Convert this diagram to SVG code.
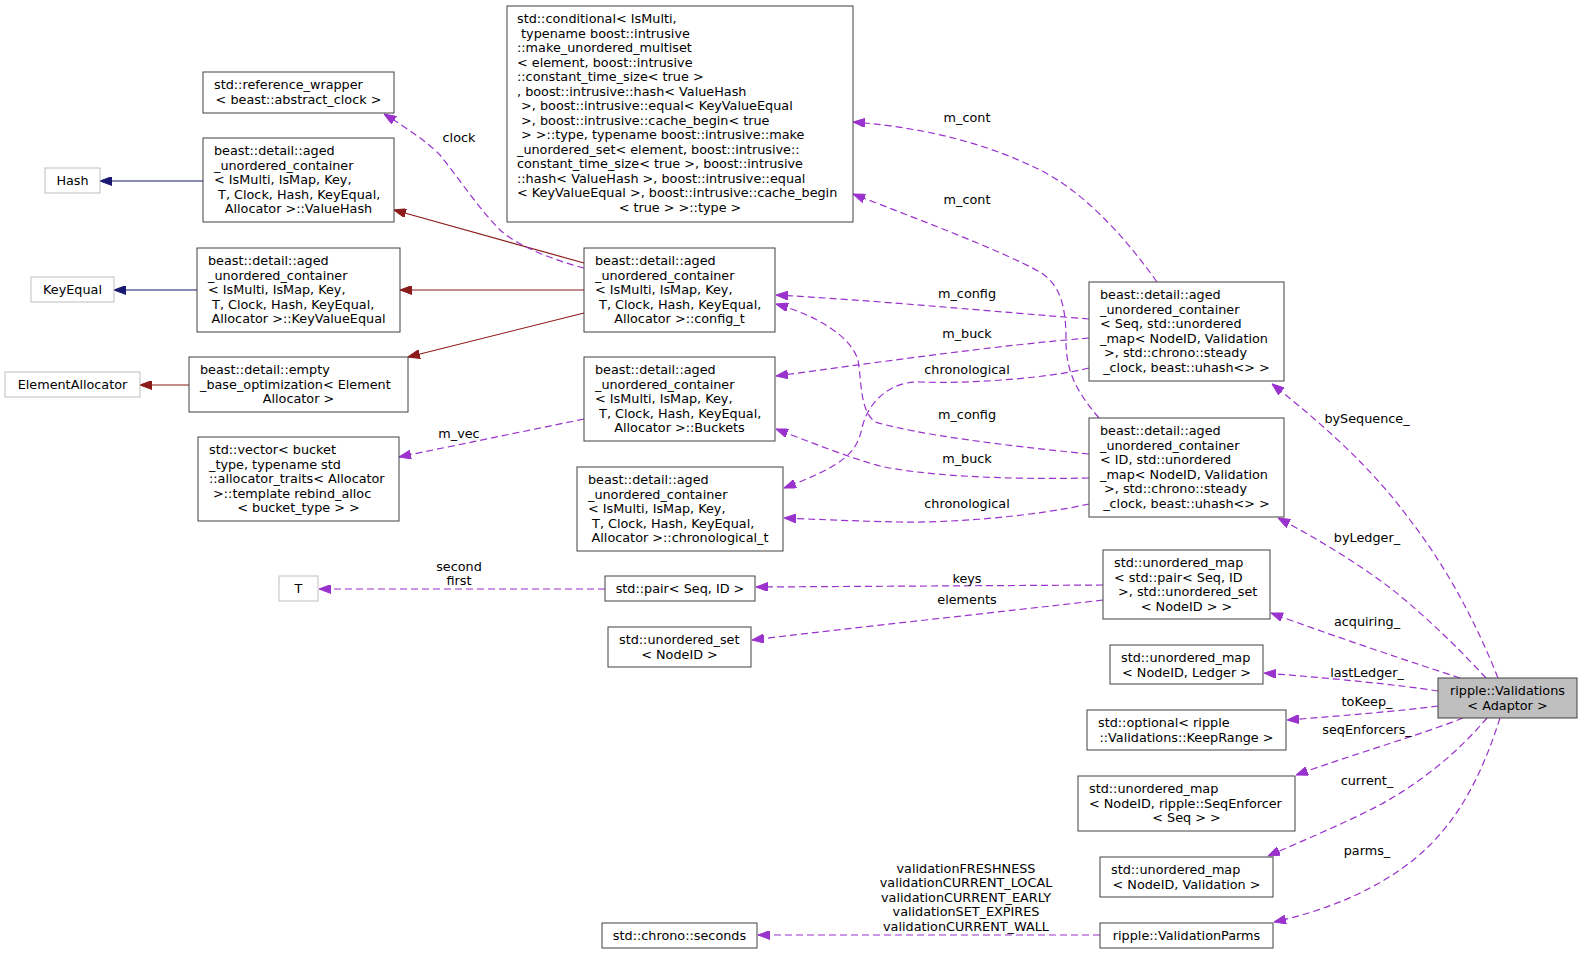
<svg xmlns="http://www.w3.org/2000/svg" width="1583" height="954" viewBox="0 0 1583 954">
<style>
text{font-family:"DejaVu Sans","Liberation Sans",sans-serif;font-size:12.8px;fill:#000;white-space:pre}
.m{text-anchor:middle}
.node rect{fill:#fff;stroke:#404040;stroke-width:1}
.node.u rect{stroke:#bfbfbf}
.node.root rect{fill:#bfbfbf}
.e{fill:none;stroke-width:1.2}
.d{stroke:#9a32cd;stroke-dasharray:7,4;marker-end:url(#ap)}
.r{stroke:#8b1a1a;marker-end:url(#ar)}
.b{stroke:#191970;marker-end:url(#ab)}
</style>
<defs>
<marker id="ap" markerUnits="userSpaceOnUse" viewBox="0 0 12 9" markerWidth="12" markerHeight="9" refX="12" refY="4.5" orient="auto"><path d="M0,0 L12,4.5 L0,9 z" fill="#9a32cd" stroke="#9a32cd"/></marker>
<marker id="ar" markerUnits="userSpaceOnUse" viewBox="0 0 12 9" markerWidth="12" markerHeight="9" refX="12" refY="4.5" orient="auto"><path d="M0,0 L12,4.5 L0,9 z" fill="#8b1a1a" stroke="#8b1a1a"/></marker>
<marker id="ab" markerUnits="userSpaceOnUse" viewBox="0 0 12 9" markerWidth="12" markerHeight="9" refX="12" refY="4.5" orient="auto"><path d="M0,0 L12,4.5 L0,9 z" fill="#191970" stroke="#191970"/></marker>
</defs>
<rect width="1583" height="954" fill="#fff"/>

<g id="edges">
<path class="e r" d="M584,263 L394,210"/>
<path class="e r" d="M584,290 L400,290"/>
<path class="e r" d="M584,313 L408,357"/>
<path class="e b" d="M203,181 L100,181"/>
<path class="e b" d="M197,290 L114,290"/>
<path class="e r" d="M189,385 L140,385"/>
<path class="e d" d="M584,268 C560,262 520,248 500,230 C480,210 460,180 440,155 C425,140 405,127 384,114"/>
<text class="m" x="459" y="141.5">clock</text>
<path class="e d" d="M584,419 L399,457"/>
<text class="m" x="459" y="437.5">m_vec</text>
<path class="e d" d="M1157,282 C1120,230 1080,190 1040,170 C990,145 930,128 853,122"/>
<text class="m" x="967" y="121.5">m_cont</text>
<path class="e d" d="M1099,418 C1075,390 1066,370 1066,340 C1066,305 1060,285 1040,272 C1000,250 920,220 853,194"/>
<text class="m" x="967" y="203.5">m_cont</text>
<path class="e d" d="M1089,319 C1000,312 870,300 776,295"/>
<text class="m" x="967" y="297.5">m_config</text>
<path class="e d" d="M1089,338 C1000,345 880,362 776,376"/>
<text class="m" x="967" y="337.5">m_buck</text>
<path class="e d" d="M1089,368 C1050,378 970,384 920,382 C890,381 868,402 862,428 C857,452 845,465 784,488"/>
<text class="m" x="967" y="373.5">chronological</text>
<path class="e d" d="M1089,454 C1000,445 920,435 875,422 C860,410 862,385 858,360 C850,335 815,315 776,304"/>
<text class="m" x="967" y="418.5">m_config</text>
<path class="e d" d="M1089,478 C1000,480 920,475 880,466 C850,458 810,442 776,429"/>
<text class="m" x="967" y="462.5">m_buck</text>
<path class="e d" d="M1089,504 C1040,515 960,523 900,522 C850,521 810,519 784,518"/>
<text class="m" x="967" y="507.5">chronological</text>
<path class="e d" d="M1103,585 L756,587"/>
<text class="m" x="967" y="582.5">keys</text>
<path class="e d" d="M1103,600 C1000,612 850,628 752,640"/>
<text class="m" x="967" y="603.5">elements</text>
<path class="e d" d="M605,589 L319,589"/>
<text class="m" x="459" y="570.5">second</text>
<text class="m" x="459" y="584.5">first</text>
<path class="e d" d="M1100,935 L758,935"/>
<text class="m" x="966" y="872.5">validationFRESHNESS</text>
<text class="m" x="966" y="887">validationCURRENT_LOCAL</text>
<text class="m" x="966" y="901.5">validationCURRENT_EARLY</text>
<text class="m" x="966" y="916">validationSET_EXPIRES</text>
<text class="m" x="966" y="930.5">validationCURRENT_WALL</text>
<path class="e d" d="M1498,678 C1475,620 1445,565 1410,520 C1375,472 1330,430 1272,384"/>
<text class="m" x="1367" y="422.5">bySequence_</text>
<path class="e d" d="M1486,678 C1460,650 1430,620 1393,590 C1360,565 1320,540 1278,518"/>
<text class="m" x="1367" y="541.5">byLedger_</text>
<path class="e d" d="M1460,678 C1420,665 1330,635 1271,613"/>
<text class="m" x="1367" y="625.5">acquiring_</text>
<path class="e d" d="M1438,691 C1400,685 1330,678 1264,673"/>
<text class="m" x="1367" y="676.5">lastLedger_</text>
<path class="e d" d="M1438,706 C1400,711 1340,716 1287,720"/>
<text class="m" x="1367" y="705.5">toKeep_</text>
<path class="e d" d="M1463,718 C1420,735 1360,752 1296,775"/>
<text class="m" x="1367" y="733.5">seqEnforcers_</text>
<path class="e d" d="M1487,718 C1460,750 1420,785 1370,810 C1340,825 1300,842 1268,856"/>
<text class="m" x="1367" y="784.5">current_</text>
<path class="e d" d="M1500,718 C1485,765 1465,810 1430,845 C1390,885 1330,910 1274,922"/>
<text class="m" x="1367" y="854.5">parms_</text>
</g>

<g id="n_validations" class="node root">
<rect x="1438" y="678" width="139" height="40"/>
<text class="m" x="1507.5" y="695">ripple::Validations</text>
<text class="m" x="1507.5" y="709.5">&lt; Adaptor &gt;</text>
</g>
<g id="n_bysequence" class="node">
<rect x="1089" y="282" width="195" height="99"/>
<text x="1100" y="299">beast::detail::aged</text>
<text x="1100" y="313.5">_unordered_container</text>
<text x="1100" y="328">&lt; Seq, std::unordered</text>
<text x="1100" y="342.5">_map&lt; NodeID, Validation</text>
<text x="1100" y="357"> &gt;, std::chrono::steady</text>
<text class="m" x="1186.5" y="371.5">_clock, beast::uhash&lt;&gt; &gt;</text>
</g>
<g id="n_byledger" class="node">
<rect x="1089" y="418" width="195" height="99"/>
<text x="1100" y="435">beast::detail::aged</text>
<text x="1100" y="449.5">_unordered_container</text>
<text x="1100" y="464">&lt; ID, std::unordered</text>
<text x="1100" y="478.5">_map&lt; NodeID, Validation</text>
<text x="1100" y="493"> &gt;, std::chrono::steady</text>
<text class="m" x="1186.5" y="507.5">_clock, beast::uhash&lt;&gt; &gt;</text>
</g>
<g id="n_config" class="node">
<rect x="584" y="248" width="191" height="84"/>
<text x="595" y="265">beast::detail::aged</text>
<text x="595" y="279.5">_unordered_container</text>
<text x="595" y="294">&lt; IsMulti, IsMap, Key,</text>
<text x="595" y="308.5"> T, Clock, Hash, KeyEqual,</text>
<text class="m" x="679.5" y="323">Allocator &gt;::config_t</text>
</g>
<g id="n_buckets" class="node">
<rect x="584" y="357" width="191" height="84"/>
<text x="595" y="374">beast::detail::aged</text>
<text x="595" y="388.5">_unordered_container</text>
<text x="595" y="403">&lt; IsMulti, IsMap, Key,</text>
<text x="595" y="417.5"> T, Clock, Hash, KeyEqual,</text>
<text class="m" x="679.5" y="432">Allocator &gt;::Buckets</text>
</g>
<g id="n_chrono_t" class="node">
<rect x="577" y="467" width="206" height="84"/>
<text x="588" y="484">beast::detail::aged</text>
<text x="588" y="498.5">_unordered_container</text>
<text x="588" y="513">&lt; IsMulti, IsMap, Key,</text>
<text x="588" y="527.5"> T, Clock, Hash, KeyEqual,</text>
<text class="m" x="680" y="542">Allocator &gt;::chronological_t</text>
</g>
<g id="n_conditional" class="node">
<rect x="507" y="6" width="346" height="216"/>
<text x="517" y="23">std::conditional&lt; IsMulti,</text>
<text x="517" y="37.5"> typename boost::intrusive</text>
<text x="517" y="52">::make_unordered_multiset</text>
<text x="517" y="66.5">&lt; element, boost::intrusive</text>
<text x="517" y="81">::constant_time_size&lt; true &gt;</text>
<text x="517" y="95.5">, boost::intrusive::hash&lt; ValueHash</text>
<text x="517" y="110"> &gt;, boost::intrusive::equal&lt; KeyValueEqual</text>
<text x="517" y="124.5"> &gt;, boost::intrusive::cache_begin&lt; true</text>
<text x="517" y="139"> &gt; &gt;::type, typename boost::intrusive::make</text>
<text x="517" y="153.5">_unordered_set&lt; element, boost::intrusive::</text>
<text x="517" y="168">constant_time_size&lt; true &gt;, boost::intrusive</text>
<text x="517" y="182.5">::hash&lt; ValueHash &gt;, boost::intrusive::equal</text>
<text x="517" y="197">&lt; KeyValueEqual &gt;, boost::intrusive::cache_begin</text>
<text class="m" x="680" y="211.5">&lt; true &gt; &gt;::type &gt;</text>
</g>
<g id="n_refwrap" class="node">
<rect x="203" y="72" width="191" height="41"/>
<text x="214" y="89">std::reference_wrapper</text>
<text class="m" x="298.5" y="103.5">&lt; beast::abstract_clock &gt;</text>
</g>
<g id="n_valuehash" class="node">
<rect x="203" y="138" width="191" height="84"/>
<text x="214" y="155">beast::detail::aged</text>
<text x="214" y="169.5">_unordered_container</text>
<text x="214" y="184">&lt; IsMulti, IsMap, Key,</text>
<text x="214" y="198.5"> T, Clock, Hash, KeyEqual,</text>
<text class="m" x="298.5" y="213">Allocator &gt;::ValueHash</text>
</g>
<g id="n_keyvalueequal" class="node">
<rect x="197" y="248" width="203" height="84"/>
<text x="208" y="265">beast::detail::aged</text>
<text x="208" y="279.5">_unordered_container</text>
<text x="208" y="294">&lt; IsMulti, IsMap, Key,</text>
<text x="208" y="308.5"> T, Clock, Hash, KeyEqual,</text>
<text class="m" x="298.5" y="323">Allocator &gt;::KeyValueEqual</text>
</g>
<g id="n_ebo" class="node">
<rect x="189" y="357" width="219" height="55"/>
<text x="200" y="374">beast::detail::empty</text>
<text x="200" y="388.5">_base_optimization&lt; Element</text>
<text class="m" x="298.5" y="403">Allocator &gt;</text>
</g>
<g id="n_vector" class="node">
<rect x="198" y="437" width="201" height="84"/>
<text x="209" y="454">std::vector&lt; bucket</text>
<text x="209" y="468.5">_type, typename std</text>
<text x="209" y="483">::allocator_traits&lt; Allocator</text>
<text x="209" y="497.5"> &gt;::template rebind_alloc</text>
<text class="m" x="298.5" y="512">&lt; bucket_type &gt; &gt;</text>
</g>
<g id="n_hash" class="node u">
<rect x="45" y="168" width="55" height="25"/>
<text class="m" x="72.5" y="185">Hash</text>
</g>
<g id="n_keyequal" class="node u">
<rect x="31" y="277" width="83" height="25"/>
<text class="m" x="72.5" y="294">KeyEqual</text>
</g>
<g id="n_elementallocator" class="node u">
<rect x="5" y="372" width="135" height="25"/>
<text class="m" x="72.5" y="389">ElementAllocator</text>
</g>
<g id="n_t" class="node u">
<rect x="279" y="576" width="39" height="25"/>
<text class="m" x="298.5" y="593">T</text>
</g>
<g id="n_pair" class="node">
<rect x="605" y="576" width="150" height="25"/>
<text class="m" x="680" y="593">std::pair&lt; Seq, ID &gt;</text>
</g>
<g id="n_uset" class="node">
<rect x="608" y="627" width="143" height="40"/>
<text x="619" y="644">std::unordered_set</text>
<text class="m" x="679.5" y="658.5">&lt; NodeID &gt;</text>
</g>
<g id="n_seconds" class="node">
<rect x="602" y="923" width="155" height="25"/>
<text class="m" x="679.5" y="940">std::chrono::seconds</text>
</g>
<g id="n_acquiring" class="node">
<rect x="1103" y="550" width="167" height="69"/>
<text x="1114" y="567">std::unordered_map</text>
<text x="1114" y="581.5">&lt; std::pair&lt; Seq, ID</text>
<text x="1114" y="596"> &gt;, std::unordered_set</text>
<text class="m" x="1186.5" y="610.5">&lt; NodeID &gt; &gt;</text>
</g>
<g id="n_lastledger" class="node">
<rect x="1110" y="645" width="153" height="39"/>
<text x="1121" y="662">std::unordered_map</text>
<text class="m" x="1186.5" y="676.5">&lt; NodeID, Ledger &gt;</text>
</g>
<g id="n_tokeep" class="node">
<rect x="1087" y="710" width="199" height="40"/>
<text x="1098" y="727">std::optional&lt; ripple</text>
<text class="m" x="1186.5" y="741.5">::Validations::KeepRange &gt;</text>
</g>
<g id="n_seqenforcers" class="node">
<rect x="1078" y="776" width="217" height="55"/>
<text x="1089" y="793">std::unordered_map</text>
<text x="1089" y="807.5">&lt; NodeID, ripple::SeqEnforcer</text>
<text class="m" x="1186.5" y="822">&lt; Seq &gt; &gt;</text>
</g>
<g id="n_current" class="node">
<rect x="1100" y="857" width="173" height="40"/>
<text x="1111" y="874">std::unordered_map</text>
<text class="m" x="1186.5" y="888.5">&lt; NodeID, Validation &gt;</text>
</g>
<g id="n_parms" class="node">
<rect x="1100" y="923" width="173" height="25"/>
<text class="m" x="1186.5" y="940">ripple::ValidationParms</text>
</g>
</svg>
